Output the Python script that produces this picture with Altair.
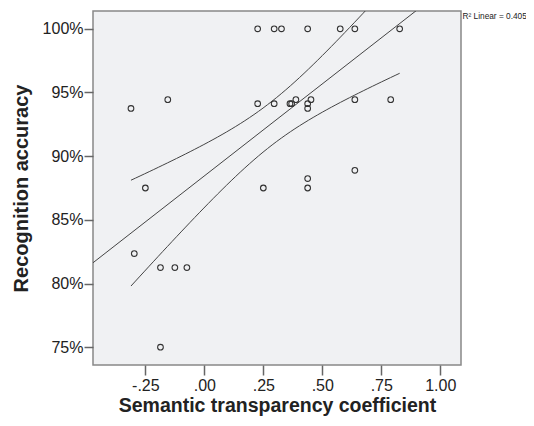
import altair as alt
import numpy as np
import pandas as pd

x_vals = [0.226, 0.296, 0.327, 0.438, 0.576, 0.638, 0.828,
          -0.311, -0.155, 0.226, 0.296, 0.363, 0.370, 0.388, 0.438, 0.438, 0.452, 0.638, 0.790,
          -0.250, 0.250, 0.638, 0.438, 0.438,
          -0.297, -0.186, -0.125, -0.074, -0.186]
y_vals = [1.000, 1.000, 1.000, 1.000, 1.000, 1.000, 1.000,
          0.9375, 0.9444, 0.9412, 0.9412, 0.9412, 0.9412, 0.9444, 0.9412, 0.9375, 0.9444, 0.9444, 0.9444,
          0.875, 0.875, 0.8889, 0.8824, 0.875,
          0.8235, 0.8125, 0.8125, 0.8125, 0.750]
x_ticks = [-0.25, 0.0, 0.25, 0.5, 0.75, 1.0]
y_ticks = [0.75, 0.80, 0.85, 0.90, 0.95, 1.00]
x_domain = [-0.472, 1.088]
y_domain = [0.736, 1.014]
r2_label = "R\u00b2 Linear = 0.405"

# Fit line and 95% mean-confidence band
fit_intercept = 0.8845
fit_slope = 0.1445
band_center = 0.28
band_min_half = 0.0172
band_spread = 0.064

pts = pd.DataFrame({"x": x_vals, "y": y_vals})

xa = np.array(x_vals)
gx = np.linspace(xa.min(), xa.max(), 60)
fit = fit_intercept + fit_slope * gx
half = np.sqrt(band_min_half ** 2 + (band_spread * (gx - band_center)) ** 2)
band = pd.DataFrame({"x": np.concatenate([gx, gx]),
                     "y": np.concatenate([fit - half, fit + half]),
                     "g": ["lo"] * len(gx) + ["hi"] * len(gx)})
line = pd.DataFrame({"x": x_domain,
                     "y": [fit_intercept + fit_slope * x_domain[0], fit_intercept + fit_slope * x_domain[1]]})

label_expr = ("datum.value >= 1 ? '1.00' : datum.value < 0 ? '-' + slice(format(-datum.value, '.2f'), 1)"
              " : slice(format(datum.value, '.2f'), 1)")

xs = alt.Scale(domain=x_domain, nice=False, zero=False)
ys = alt.Scale(domain=y_domain, nice=False, zero=False)
xenc = alt.X("x:Q", scale=xs,
             axis=alt.Axis(values=x_ticks, labelExpr=label_expr, title="Semantic transparency coefficient",
                           grid=False, domain=False, tickSize=10, tickColor="#666", tickWidth=1.5,
                           labelFontSize=16, labelColor="#222", labelPadding=2,
                           titleFontSize=19.5, titleFontWeight="bold", titleColor="#222", titlePadding=3))
yenc = alt.Y("y:Q", scale=ys,
             axis=alt.Axis(values=y_ticks, format=".0%", title="Recognition accuracy",
                           grid=False, domain=False, tickSize=9, tickColor="#666", tickWidth=1.5,
                           labelFontSize=16, labelColor="#222", labelPadding=1,
                           titleFontSize=20, titleFontWeight="bold", titleColor="#222", titlePadding=11))

points = alt.Chart(pts).mark_point(shape="circle", filled=False, size=32, strokeWidth=1.1,
                                   color="#333", opacity=1).encode(x=xenc, y=yenc)
fitline = alt.Chart(line).mark_line(color="#444", strokeWidth=1, clip=True).encode(x=xenc, y=yenc)
bands = alt.Chart(band).mark_line(color="#444", strokeWidth=1, clip=True).encode(x=xenc, y=yenc, detail="g:N")
r2 = alt.Chart(pd.DataFrame({"t": [r2_label]})).mark_text(
    align="left", baseline="middle", fontSize=8.3, color="#222", font="Liberation Sans"
).encode(x=alt.value(369.5), y=alt.value(6), text="t:N")

chart = alt.layer(bands, fitline, points, r2).properties(
    width=368, height=354,
    autosize=alt.AutoSizeParams(type="none"),
    padding={"left": 85, "top": 3, "right": 65, "bottom": 53},
    background="white",
).configure(
    font="Liberation Sans"
).configure_view(
    fill="#f0f1f3", stroke="#888", strokeWidth=1.5
)

chart.save("out.html", embed_options={"renderer": "svg", "actions": False})
